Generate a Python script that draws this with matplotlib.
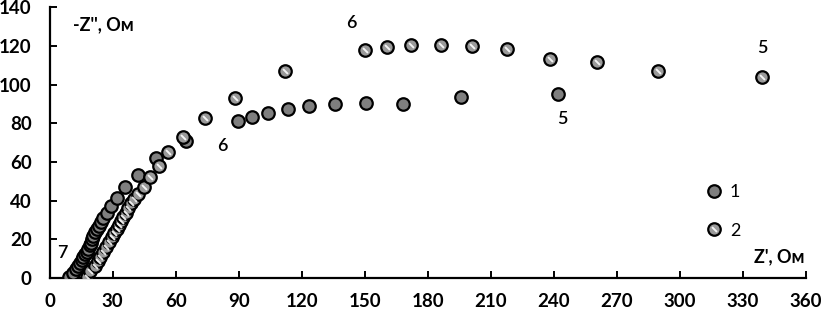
import matplotlib
matplotlib.use("Agg")
import matplotlib.pyplot as plt
from matplotlib.path import Path
from matplotlib.markers import MarkerStyle
import numpy as np

# Series 1 (dark markers)
z1_re = [9.2, 10.9, 12.5, 13.6, 14.4, 15.2, 16.0, 16.8, 17.6, 18.4, 19.2, 19.7, 20.1, 20.8,
         21.6, 22.4, 23.5, 24.4, 25.5, 27.1, 29.0, 31.9, 35.8, 42.2, 50.6, 65.1,
         89.7, 96.3, 103.9, 113.5, 123.5, 135.9, 150.6, 168.2, 195.9, 242.0]
z1_im = [0.2, 2.6, 4.5, 6.2, 7.8, 9.2, 10.6, 12.1, 13.5, 15.0, 16.8, 18.1, 19.9, 21.6,
         23.5, 25.1, 26.9, 29.0, 30.8, 33.4, 37.1, 41.5, 47.0, 53.4, 62.0, 71.0,
         81.2, 83.3, 85.3, 87.4, 89.0, 90.0, 90.5, 90.2, 93.6, 95.2]

# Series 2 (striped markers)
z2_re = [17.9, 19.2, 21.6, 22.8, 24.0, 25.5, 26.8, 28.2, 29.5, 30.8, 31.9, 33.0, 34.0, 35.0,
         36.3, 37.4, 38.7, 40.3, 42.2, 44.9, 47.8, 52.0, 56.5, 63.6, 74.0, 88.2, 112.0,
         150.1, 160.6, 172.0, 186.3, 201.0, 217.8, 238.2, 260.6, 289.7, 339.2]
z2_im = [0.2, 3.6, 6.2, 8.7, 10.9, 13.5, 16.1, 18.5, 20.9, 23.3, 25.4, 27.3, 29.5, 31.6,
         33.7, 36.0, 38.5, 40.6, 43.2, 47.2, 52.0, 57.9, 65.3, 73.0, 82.7, 93.2, 107.1,
         118.0, 119.5, 120.6, 120.6, 120.0, 118.5, 113.3, 111.7, 107.1, 104.0]

series_labels = ["1", "2"]
x_ticks = list(range(0, 361, 30))
y_ticks = list(range(0, 141, 20))

# point annotations (label, Z', -Z'')
ann_text = ["7", "6", "6", "5", "5"]
ann_x = [6, 82, 143.5, 244, 339.5]
ann_y = [13, 68, 132, 82, 119]

plt.rcParams['font.family'] = ['Lato', 'DejaVu Sans']

fig = plt.figure(figsize=(8.22, 3.11), dpi=100)
ax = fig.add_axes([0.0605, 0.107, 0.9195, 0.869])

ms = 9.0
mew = 1.6

# stripe marker (white diagonal band)
L, w = 0.62, 0.17
d = np.array([1, -1]) / np.sqrt(2)
n = np.array([1, 1]) / np.sqrt(2)
band = [-L * d - w * n, L * d - w * n, L * d + w * n, -L * d + w * n, -L * d - w * n]
verts = [(-1, -1), (1, 1)] + [tuple(v) for v in band]
codes = [Path.MOVETO, Path.MOVETO, Path.MOVETO, Path.LINETO, Path.LINETO, Path.LINETO, Path.CLOSEPOLY]
stripe = MarkerStyle(Path(verts, codes))

h1, = ax.plot(z1_re, z1_im, linestyle='none', marker='o', markersize=ms,
              markerfacecolor='#7f7f7f', markeredgecolor='black', markeredgewidth=mew, zorder=3)
h2a, = ax.plot(z2_re, z2_im, linestyle='none', marker='o', markersize=ms,
               markerfacecolor='#9a9a9a', markeredgecolor='black', markeredgewidth=mew, zorder=4)
h2b, = ax.plot(z2_re, z2_im, linestyle='none', marker=stripe, markersize=ms * 0.9,
               markerfacecolor='white', markeredgewidth=0, alpha=0.9, zorder=5)

for t, x, y in zip(ann_text, ann_x, ann_y):
    ax.text(x, y, t, fontsize=13, fontweight='semibold', ha='center', va='center', color='black')

ax.text(11, 131, "-Z'', Ом", fontsize=13, fontweight='bold', ha='left', va='center')
ax.text(359.5, 11, "Z', Ом", fontsize=13, fontweight='bold', ha='right', va='center')

ax.set_xlim(0, 360)
ax.set_ylim(0, 140)
ax.set_xticks(x_ticks)
ax.set_yticks(y_ticks)
for s in ['top', 'right']:
    ax.spines[s].set_visible(False)
for s in ['left', 'bottom']:
    ax.spines[s].set_linewidth(1.6)
ax.tick_params(direction='in', length=5, width=1.4, labelsize=13.5)
ax.tick_params(axis='x', pad=11)
ax.tick_params(axis='y', pad=13)
for lab in ax.get_xticklabels() + ax.get_yticklabels():
    lab.set_fontweight('bold')

leg = ax.legend([h1, (h2a, h2b)], series_labels, loc='center left',
                bbox_to_anchor=(0.845, 0.245), frameon=False, fontsize=13,
                handlelength=1.0, handletextpad=0.4, labelspacing=1.25, numpoints=1)

fig.savefig("out.png", dpi=100)
